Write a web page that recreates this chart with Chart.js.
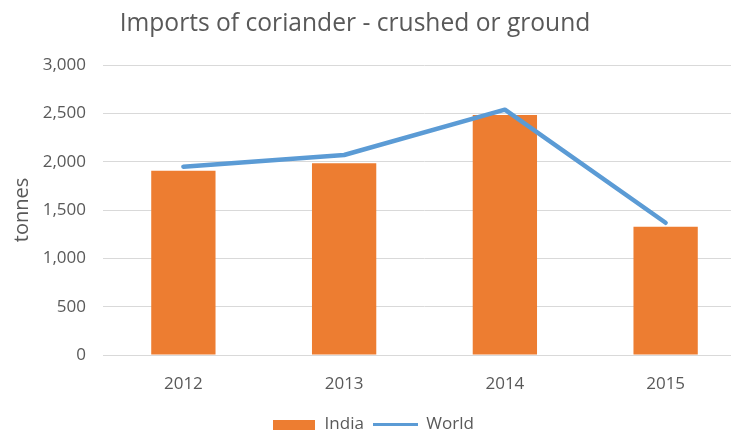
<!DOCTYPE html>
<html>
<head>
<meta charset="utf-8">
<script src="https://cdn.jsdelivr.net/npm/chart.js@4"></script>
<style>
  html, body { margin: 0; padding: 0; background: #fff; }
  #frame { width: 731px; height: 434px; overflow: hidden; position: relative; }
  #wrap { width: 748px; height: 443px; position: absolute; left: 0; top: 0; }
</style>
</head>
<body>
<div id="frame"><div id="wrap"><canvas id="importChart"></canvas></div></div>
<script>
// --- Data ---
const years = ["2012", "2013", "2014", "2015"];
const indiaTonnes = [1907, 1983, 2483, 1327];
const worldTonnes = [1948, 2069, 2538, 1368];
const yTicks = [0, 500, 1000, 1500, 2000, 2500, 3000];

const chartTitle = "Imports of coriander - crushed or ground";
const FONT = "'Open Sans', sans-serif";
const GREY = "#595959";
const ORANGE = "#ED7D31";
const BLUE = "#5B9BD5";

// legend swatches as small canvases
function makeSwatch(w, h, color) {
  const c = document.createElement("canvas");
  c.width = w;
  c.height = h;
  const g = c.getContext("2d");
  g.fillStyle = color;
  g.fillRect(0, 0, w, h);
  return c;
}
const indiaSwatch = makeSwatch(42, 10, ORANGE);
const worldSwatch = makeSwatch(45, 3, BLUE);

// --- Title drawn off-centre like the original ---
const titlePlugin = {
  id: "titleAt",
  afterDraw(chart) {
    const c = chart.ctx;
    c.save();
    c.font = "24.6px " + FONT;
    c.fillStyle = GREY;
    c.textAlign = "center";
    c.textBaseline = "alphabetic";
    c.fillText(chartTitle, 355, 31);
    c.restore();
  }
};

const ctx = document.getElementById("importChart").getContext("2d");
new Chart(ctx, {
  type: "bar",
  data: {
    labels: years,
    datasets: [
      {
        type: "line",
        label: "World",
        data: worldTonnes,
        borderColor: BLUE,
        backgroundColor: BLUE,
        borderWidth: 4.5,
        borderCapStyle: "round",
        borderJoinStyle: "round",
        pointRadius: 0,
        tension: 0,
        order: 0
      },
      {
        label: "India",
        data: indiaTonnes,
        backgroundColor: ORANGE,
        categoryPercentage: 1,
        barPercentage: 0.4,
        order: 1
      }
    ]
  },
  options: {
    responsive: true,
    maintainAspectRatio: false,
    animation: false,
    layout: { padding: { top: 65, right: 2, left: 0, bottom: 0 } },
    plugins: {
      tooltip: { enabled: false },
      title: { display: false },
      legend: {
        position: "bottom",
        labels: {
          usePointStyle: true,
          pointStyleWidth: 44,
          padding: 10,
          color: GREY,
          font: { family: FONT, size: 17 },
          generateLabels: () => [
            { text: "India", pointStyle: indiaSwatch, fontColor: GREY, datasetIndex: 1, hidden: false, lineWidth: 0 },
            { text: "World", pointStyle: worldSwatch, fontColor: GREY, datasetIndex: 0, hidden: false, lineWidth: 0 }
          ]
        }
      }
    },
    scales: {
      x: {
        grid: { display: false },
        border: { color: "#d9d9d9" },
        ticks: { color: GREY, font: { family: FONT, size: 17 }, padding: 11 },
        afterFit: (s) => { s.height = 51; }
      },
      y: {
        min: 0,
        max: 3000,
        afterBuildTicks: (s) => { s.ticks = yTicks.map(v => ({ value: v })); },
        grid: { color: "#d9d9d9", drawTicks: false },
        border: { display: false },
        ticks: {
          color: GREY,
          font: { family: FONT, size: 17 },
          padding: 17,
          callback: (v) => v.toLocaleString("en-US")
        },
        title: {
          display: true,
          text: "tonnes",
          color: GREY,
          font: { family: FONT, size: 20 },
          padding: { top: 10, bottom: 0 }
        },
        afterFit: (s) => { s.width = 103; }
      }
    }
  },
  plugins: [titlePlugin]
});
</script>
</body>
</html>
